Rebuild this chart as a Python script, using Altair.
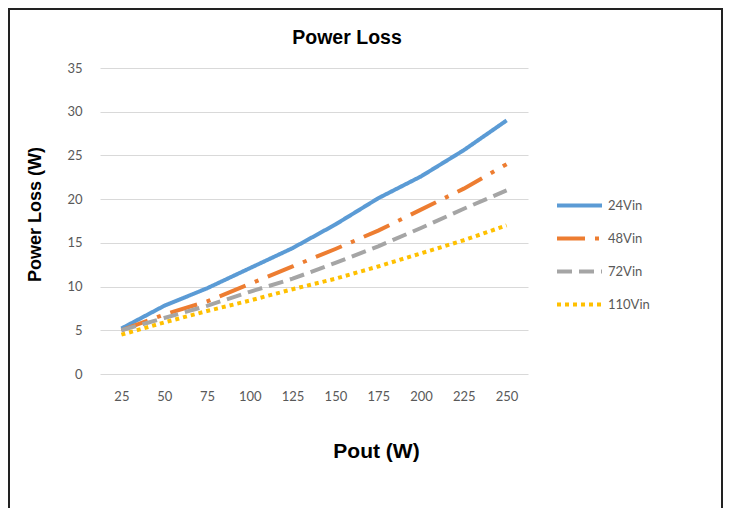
import altair as alt
import pandas as pd

pout = [25, 50, 75, 100, 125, 150, 175, 200, 225, 250]
loss_24 = [5.2, 7.8, 9.8, 12.1, 14.4, 17.1, 20.1, 22.6, 25.6, 29.0]
loss_48 = [5.0, 6.8, 8.3, 10.3, 12.3, 14.3, 16.4, 18.8, 21.2, 24.0]
loss_72 = [5.0, 6.4, 7.8, 9.4, 10.9, 12.7, 14.6, 16.7, 18.9, 21.0]
loss_110 = [4.5, 5.9, 7.2, 8.4, 9.7, 10.9, 12.3, 13.8, 15.3, 17.0]
series = ["24Vin", "48Vin", "72Vin", "110Vin"]
colors = ["#5B9BD5", "#ED7D31", "#A5A5A5", "#FFC000"]
dashes = [[1, 0], [28, 10, 4, 10], [15, 7], [4, 4]]
chart_title = "Power Loss"

rows = []
for name, vals in zip(series, [loss_24, loss_48, loss_72, loss_110]):
    for p, v in zip(pout, vals):
        rows.append({"Pout": p, "Loss": v, "Series": name})
df = pd.DataFrame(rows)

LBL = "#595959"
GRID = "#D9D9D9"

legend = alt.Legend(
    title=None, orient="none", legendX=455, legendY=113,
    symbolType="stroke", symbolStrokeWidth=4, symbolSize=2025,
    labelFont="Lato", labelFontSize=13, labelColor=LBL, labelOffset=4,
    rowPadding=0,
)

lines = alt.Chart(df).mark_line(strokeWidth=4).encode(
    x=alt.X("Pout:O", title="Pout (W)",
            axis=alt.Axis(labelAngle=0, labelFont="Lato", labelFontSize=13, labelColor=LBL,
                          ticks=False, domain=False, labelPadding=16,
                          titleFont="Liberation Sans", titleFontSize=21, titleFontWeight="bold",
                          titleColor="black", titleX=276, titleY=77, titleBaseline="middle")),
    y=alt.Y("Loss:Q", title="Power Loss (W)",
            scale=alt.Scale(domain=[0, 35], nice=False),
            axis=alt.Axis(values=[0, 5, 10, 15, 20, 25, 30, 35], labelFont="Lato", labelFontSize=13,
                          labelColor=LBL, ticks=False, domain=False, labelPadding=18,
                          gridColor=GRID, gridWidth=1,
                          titleFont="Liberation Sans", titleFontSize=18, titleFontWeight="bold",
                          titleColor="black", titleX=-65, titleY=146, titleAngle=-90,
                          titleBaseline="middle", titleAlign="center")),
    color=alt.Color("Series:N", sort=series, scale=alt.Scale(domain=series, range=colors), legend=legend),
    strokeDash=alt.StrokeDash("Series:N", sort=series, scale=alt.Scale(domain=series, range=dashes), legend=legend),
    order=alt.Order("Pout:Q"),
)

frame_df = pd.DataFrame({"k": [0]})
title_text = alt.Chart(pd.DataFrame({"t": [chart_title]})).mark_text(
    font="Liberation Sans", fontSize=19.5, fontWeight="bold", color="black",
    align="center", baseline="middle").encode(
    text="t:N", x=alt.value(247), y=alt.value(-30))
left = alt.Chart(frame_df).mark_rule(color="#222222", strokeWidth=2).encode(
    x=alt.value(-91), y=alt.value(-60), y2=alt.value(440))
top = alt.Chart(frame_df).mark_rule(color="#222222", strokeWidth=2).encode(
    x=alt.value(-92), x2=alt.value(623), y=alt.value(-59))
right = alt.Chart(frame_df).mark_rule(color="#222222", strokeWidth=2).encode(
    x=alt.value(622), y=alt.value(-60), y2=alt.value(440))

chart = alt.layer(lines, title_text, left, top, right).properties(
    width=428, height=306,
    autosize=alt.AutoSizeParams(type="none"),
    padding={"left": 92, "top": 60, "right": 195, "bottom": 134},
    background="white",
).configure_view(stroke=None)

chart.save("out.html", embed_options={"renderer": "svg", "actions": False})
